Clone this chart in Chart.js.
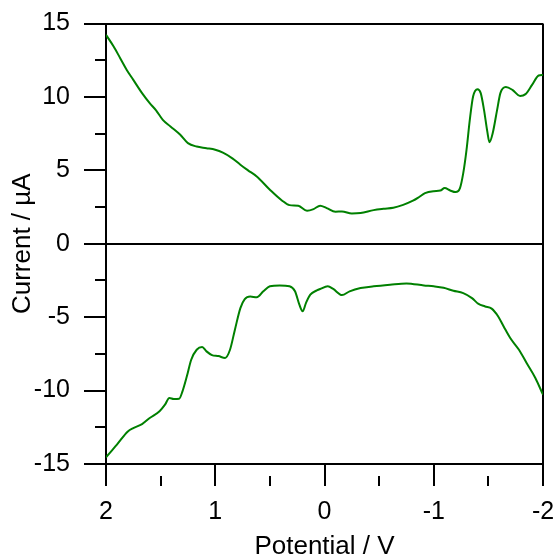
<!DOCTYPE html>
<html>
<head>
<meta charset="utf-8">
<title>Cyclic voltammogram</title>
<script src="https://cdn.jsdelivr.net/npm/chart.js@4/dist/chart.umd.min.js"></script>
<style>
  html, body { margin: 0; padding: 0; background: #ffffff; }
  canvas { display: block; }
</style>
</head>
<body>
<canvas id="cv" width="556" height="560"></canvas>
<script>
// Anodic (upper) branch: potential in V, current in µA
const upperPotential = [
  2.00, 1.93, 1.87, 1.81, 1.75, 1.67, 1.60, 1.54, 1.48, 1.41,
  1.32, 1.25, 1.17, 1.08, 1.00, 0.93, 0.84, 0.77, 0.70, 0.62,
  0.50, 0.39, 0.32, 0.24, 0.16, 0.10, 0.04, -0.02, -0.10, -0.16,
  -0.25, -0.33, -0.45, -0.54, -0.63, -0.72, -0.81, -0.86, -0.92, -1.00,
  -1.06, -1.10, -1.15, -1.20, -1.24, -1.27, -1.30, -1.33, -1.36, -1.40,
  -1.43, -1.46, -1.49, -1.51, -1.54, -1.58, -1.61, -1.66, -1.72, -1.79,
  -1.84, -1.90, -1.96, -2.00
];
const upperCurrent = [
  14.23, 13.43, 12.64, 11.84, 11.16, 10.26, 9.58, 9.07, 8.44, 7.99,
  7.42, 6.85, 6.62, 6.51, 6.40, 6.20, 5.80, 5.38, 5.00, 4.58,
  3.68, 2.95, 2.63, 2.59, 2.25, 2.36, 2.59, 2.43, 2.18, 2.20,
  2.06, 2.09, 2.29, 2.38, 2.45, 2.65, 2.93, 3.15, 3.45, 3.58,
  3.62, 3.79, 3.63, 3.52, 3.79, 4.81, 6.40, 8.44, 10.03, 10.53,
  10.26, 9.12, 7.65, 6.92, 7.54, 9.12, 10.26, 10.67, 10.48, 10.07,
  10.19, 10.82, 11.46, 11.50
];

// Cathodic (lower) branch
const lowerPotential = [
  2.00, 1.90, 1.80, 1.75, 1.67, 1.60, 1.51, 1.46, 1.42, 1.38,
  1.33, 1.30, 1.26, 1.22, 1.17, 1.12, 1.08, 1.03, 0.97, 0.91,
  0.865, 0.82, 0.77, 0.73, 0.68, 0.62, 0.56, 0.50, 0.41, 0.32,
  0.27, 0.23, 0.20, 0.17, 0.13, 0.07, 0.04, -0.03, -0.08, -0.16,
  -0.23, -0.33, -0.45, -0.60, -0.75, -0.91, -1.00, -1.09, -1.18, -1.27,
  -1.35, -1.41, -1.47, -1.53, -1.59, -1.64, -1.70, -1.78, -1.85, -1.93,
  -2.00
];
const lowerCurrent = [
  -14.55, -13.68, -12.78, -12.55, -12.28, -11.87, -11.41, -10.96, -10.50, -10.57,
  -10.55, -10.05, -9.03, -7.90, -7.22, -7.03, -7.33, -7.58, -7.65, -7.78,
  -7.22, -5.85, -4.38, -3.77, -3.59, -3.65, -3.24, -2.90, -2.84, -2.90,
  -3.24, -4.15, -4.60, -4.04, -3.47, -3.18, -3.08, -2.90, -3.08, -3.49,
  -3.24, -3.02, -2.90, -2.79, -2.70, -2.84, -2.90, -3.00, -3.20, -3.36,
  -3.70, -4.10, -4.27, -4.42, -4.95, -5.63, -6.42, -7.22, -8.12, -9.14,
  -10.28
];

const xTickLabels = ['2', '1', '0', '-1', '-2'];
const yTickLabels = ['15', '10', '5', '0', '-5', '-10', '-15'];

const toPoints = (xs, ys) => xs.map((x, i) => ({ x: x, y: ys[i] }));

const INK = '#000000';
const TRACE = 'rgb(0,128,0)';
const FONT = "'Liberation Sans', Arial, Helvetica, sans-serif";

// Major ticks carry a label; minor ticks keep only the half next to the axis
// (the tick stroke runs from its outer end towards the axis, so skip the first 11px)
const isLabelled = (labels, v) => labels.indexOf(String(v)) !== -1;
const fmt = v => String(Math.round(v * 1000) / 1000);
const MINOR_DASH = [0, 11, 11, 100];

const lineStyle = {
  borderColor: TRACE,
  borderWidth: 2,
  pointRadius: 0,
  fill: false,
  cubicInterpolationMode: 'monotone'
};

new Chart(document.getElementById('cv'), {
  type: 'line',
  data: {
    datasets: [
      Object.assign({ label: 'anodic', data: toPoints(upperPotential, upperCurrent) }, lineStyle),
      Object.assign({ label: 'cathodic', data: toPoints(lowerPotential, lowerCurrent) }, lineStyle)
    ]
  },
  options: {
    responsive: false,
    animation: false,
    events: [],
    layout: { padding: { left: 0, right: 13, top: 23.5, bottom: 0 } },
    plugins: { legend: { display: false }, tooltip: { enabled: false } },
    scales: {
      x: {
        type: 'linear',
        position: 'bottom',
        reverse: true,
        min: -2,
        max: 2,
        afterFit: s => {
          s.height = 96;
          s.paddingLeft = 0;
          s.paddingRight = 0;
        },
        border: { display: true, color: INK, width: 2 },
        grid: {
          drawOnChartArea: true,
          color: c => (c.tick && c.tick.value === -2) ? INK : 'rgba(0,0,0,0)',
          lineWidth: 2,
          tickLength: 22,
          tickColor: INK,
          tickWidth: 2,
          tickBorderDash: c => (c.tick && isLabelled(xTickLabels, fmt(c.tick.value))) ? [] : MINOR_DASH
        },
        ticks: {
          stepSize: 0.5,
          padding: 11,
          maxRotation: 0,
          autoSkip: false,
          color: INK,
          font: { family: FONT, size: 25 },
          callback: v => isLabelled(xTickLabels, fmt(v)) ? fmt(v) : ''
        },
        title: {
          display: true,
          text: 'Potential / V',
          color: INK,
          font: { family: FONT, size: 26, lineHeight: 1.0 },
          padding: { top: 0, bottom: 0 }
        }
      },
      y: {
        type: 'linear',
        position: 'left',
        min: -15,
        max: 15,
        afterFit: s => {
          s.width = 106;
          s.paddingTop = 0;
          s.paddingBottom = 0;
        },
        border: { display: true, color: INK, width: 2 },
        grid: {
          drawOnChartArea: true,
          color: c => (c.tick && (c.tick.value === 15 || c.tick.value === 0)) ? INK : 'rgba(0,0,0,0)',
          lineWidth: 2,
          tickLength: 22,
          tickColor: INK,
          tickWidth: 2,
          tickBorderDash: c => (c.tick && isLabelled(yTickLabels, fmt(c.tick.value))) ? [] : MINOR_DASH
        },
        ticks: {
          stepSize: 2.5,
          padding: 14,
          autoSkip: false,
          color: INK,
          font: { family: FONT, size: 25 },
          callback: v => isLabelled(yTickLabels, fmt(v)) ? fmt(v) : ''
        },
        title: {
          display: true,
          text: 'Current / µA',
          color: INK,
          font: { family: FONT, size: 26, lineHeight: 1.0 },
          padding: { top: 10, bottom: 0 }
        }
      }
    }
  }
});
</script>
</body>
</html>
